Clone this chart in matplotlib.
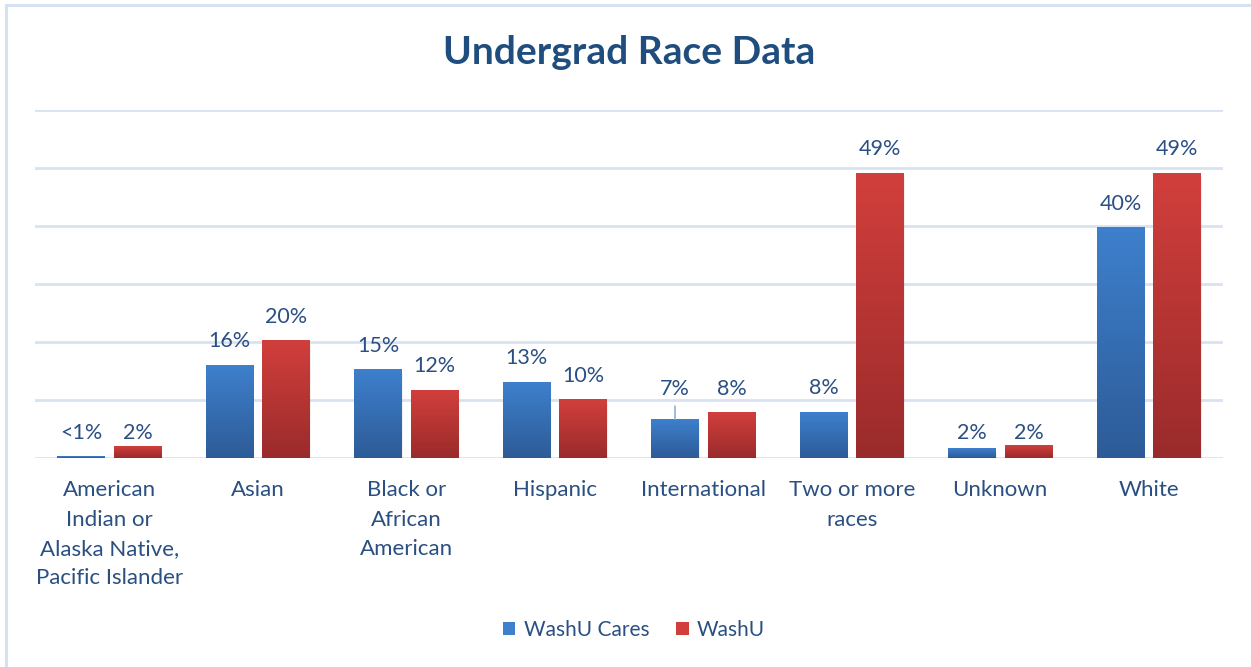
import numpy as np
import matplotlib
matplotlib.use("Agg")
import matplotlib.pyplot as plt
from matplotlib.colors import LinearSegmentedColormap
from matplotlib.patches import Rectangle

categories = ["American\nIndian or\nAlaska Native,\nPacific Islander", "Asian",
              "Black or\nAfrican\nAmerican", "Hispanic", "International",
              "Two or more\nraces", "Unknown", "White"]
washu_cares = [0.3, 16, 15.2, 13.1, 6.7, 7.9, 1.7, 39.7]
washu = [1.9, 20.2, 11.7, 10, 7.8, 49.1, 2.2, 49.1]
cares_labels = ["<1%", "16%", "15%", "13%", "7%", "8%", "2%", "40%"]
washu_labels = ["2%", "20%", "12%", "10%", "8%", "49%", "2%", "49%"]
series_names = ["WashU Cares", "WashU"]
title = "Undergrad Race Data"

FONT = "Lato"
TEXT = "#2a4f82"
GRID = "#d9e2f1"
blue_top, blue_bot = "#3e80cd", "#2d5b97"
red_top, red_bot = "#d13f3c", "#9a2b2b"

fig = plt.figure(figsize=(12.51, 6.67), dpi=100)
# chart border
fig.patches.append(Rectangle((6/1251, -0.01), 1.5, 1.0 - 5/667 + 0.01, transform=fig.transFigure,
                             fill=False, edgecolor="#d6e1f2", linewidth=2.2))
ax = fig.add_axes([35/1251, 209/667, (1223-35)/1251, (458-110)/667])
ax.set_xlim(-0.5, 7.5)
ax.set_ylim(0, 60)
for s in ax.spines.values():
    s.set_visible(False)
ax.set_yticks([])
for g in range(0, 61, 10):
    ax.axhline(g, color=GRID, linewidth=2, zorder=0)

x = np.arange(len(categories))
w = 0.32
off = 0.19


def grad_bars(xpos, vals, top, bot):
    bars = ax.bar(xpos, vals, width=w, color="none", zorder=3)
    cmap = LinearSegmentedColormap.from_list("g", [bot, top])
    grad = np.linspace(0, 1, 256).reshape(-1, 1)
    for b in bars:
        x0, bw, h = b.get_x(), b.get_width(), b.get_height()
        # soft shadow
        for k, a in [(0.012, 0.10), (0.024, 0.06)]:
            ax.add_patch(Rectangle((x0 + k * 0.3, -0.35 - k * 10), bw, h, facecolor="black",
                                   alpha=a, edgecolor="none", zorder=2))
        ax.imshow(grad, cmap=cmap, origin="lower", aspect="auto",
                  extent=(x0, x0 + bw, 0, h), zorder=3, interpolation="bilinear")
    return bars


b1 = grad_bars(x - off, washu_cares, blue_top, blue_bot)
b2 = grad_bars(x + off, washu, red_top, red_bot)
ax.set_xlim(-0.5, 7.5)
ax.set_ylim(0, 60)
ax.set_aspect("auto")


def label(bars, labels):
    for b, t in zip(bars, labels):
        h = b.get_height()
        extra = 6 if t == "7%" else 0
        if h < 5:
            yb, ypix = 0, 15
        else:
            yb, ypix = h, 14 + extra
        ax.annotate(t, (b.get_x() + b.get_width() / 2, yb), xytext=(0, ypix),
                    textcoords="offset pixels", ha="center", va="bottom",
                    fontsize=15.5, color=TEXT, family=FONT, zorder=5)
        if extra:
            ax.annotate("", (b.get_x() + b.get_width() / 2, h), xytext=(0, 13),
                        textcoords="offset pixels",
                        arrowprops=dict(arrowstyle="-", color="#8fb0dc", lw=1.2,
                                        shrinkA=0, shrinkB=0))


label(b1, cares_labels)
label(b2, washu_labels)

ax.set_xticks(x)
ax.set_xticklabels(categories, fontsize=16, color=TEXT, family=FONT, linespacing=1.58,
                   va="top")
ax.tick_params(axis="x", length=0, pad=16)

fig.text(629/1251, 1 - 53/667, title, ha="center", va="center", fontsize=28,
         fontweight="bold", color="#1f4d7e", family=FONT)

handles = [Rectangle((0, 0), 1, 1, facecolor=blue_top), Rectangle((0, 0), 1, 1, facecolor=red_top)]
fig.legend(handles, series_names, loc="center", bbox_to_anchor=(634/1251, 1 - 630/667),
           ncol=2, frameon=False, prop={"family": FONT, "size": 15}, labelcolor=TEXT,
           handlelength=0.6, handleheight=0.6, handletextpad=0.4, columnspacing=1.3)

fig.savefig("out.png", dpi=100, facecolor="white")
